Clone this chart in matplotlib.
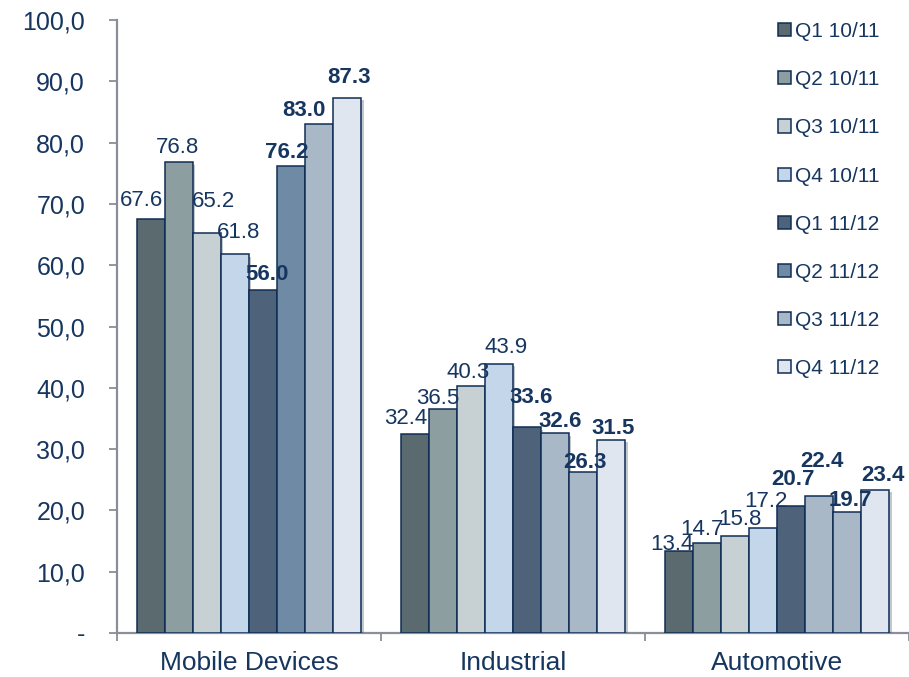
import matplotlib
matplotlib.use("Agg")
import matplotlib.pyplot as plt
import matplotlib.patheffects as pe
import numpy as np

plt.rcParams["font.family"] = ["Liberation Sans", "DejaVu Sans"]

# Revenue by segment per quarter
categories = ["Mobile Devices", "Industrial", "Automotive"]
series_names = ["Q1 10/11", "Q2 10/11", "Q3 10/11", "Q4 10/11",
                "Q1 11/12", "Q2 11/12", "Q3 11/12", "Q4 11/12"]
q1_1011 = [67.6, 32.4, 13.4]
q2_1011 = [76.8, 36.5, 14.7]
q3_1011 = [65.2, 40.3, 15.8]
q4_1011 = [61.8, 43.9, 17.2]
q1_1112 = [56.0, 33.6, 20.7]
q2_1112 = [76.2, 32.6, 22.4]
q3_1112 = [83.0, 26.3, 19.7]
q4_1112 = [87.3, 31.5, 23.4]
series_values = [q1_1011, q2_1011, q3_1011, q4_1011,
                 q1_1112, q2_1112, q3_1112, q4_1112]
y_ticks = [0, 10, 20, 30, 40, 50, 60, 70, 80, 90, 100]
y_tick_labels = ["-", "10,0", "20,0", "30,0", "40,0", "50,0",
                 "60,0", "70,0", "80,0", "90,0", "100,0"]

# Styling
series_colors = ["#5b6a6e", "#8c9ea0", "#c7d0d2", "#c4d6ea",
                 "#4e6379", "#a9b8c7", "#a9b8c6", "#e0e6ef"]
# Mobile Devices Q2 11/12 is drawn in a deeper blue
bar_color_override = {(5, 0): "#6e8aa4"}
edge_color = "#0f2d55"
text_color = "#163660"
axis_color = "#8a8e99"

# Hand-placed nudges (pixels) for the value labels, per category then series
label_nudges = [
    [(-9, 13), (-1, 9), (7, 26), (4, 16), (4, 10), (-4, 8), (-15, 8), (2, 15)],
    [(-9, 10), (-5, 5), (-3, 8), (7, 11), (4, 24), (5, 6), (2, 4), (2, 6)],
    [(-7, 1), (-5, 8), (5, 11), (3, 21), (2, 21), (3, 29), (3, 6), (8, 9)],
]

fig = plt.figure(figsize=(9.09, 6.77), dpi=100)
ax = fig.add_axes([117 / 909, 44 / 677, 1 - 117 / 909, (633 - 20) / 677])

bar_w = 0.1065
x_centers = np.arange(len(categories)) + 0.5
shadow = [pe.SimplePatchShadow(offset=(1.5, -1.8), shadow_rgbFace="#3a4a60", alpha=0.3),
          pe.Normal()]

handles = []
for i, (name, vals) in enumerate(zip(series_names, series_values)):
    xs = x_centers + (i - 3.5) * bar_w
    colors = [bar_color_override.get((i, j), series_colors[i]) for j in range(len(vals))]
    bars = ax.bar(xs, vals, width=bar_w, color=colors, edgecolor=edge_color,
                  linewidth=1.1, label=name, zorder=3)
    for b in bars:
        b.set_path_effects(shadow)
    handles.append(bars)
    weight = "bold" if i >= 4 else "normal"
    for j, (x, v) in enumerate(zip(xs, vals)):
        dx, dy = label_nudges[j][i]
        ax.annotate(f"{v:.1f}", (x, v), xytext=(dx, dy), textcoords="offset pixels",
                    ha="center", va="baseline", fontsize=16, fontweight=weight,
                    color=text_color, zorder=4)

ax.set_xlim(0, 3)
ax.set_ylim(0, 100)
ax.set_yticks(y_ticks)
ax.set_yticklabels(y_tick_labels)
ax.set_xticks(x_centers)
ax.set_xticklabels(categories)
ax.set_xticks([0, 1, 2, 3], minor=True)

ax.tick_params(axis="y", direction="out", length=6, width=1.3, color=axis_color,
               labelsize=18, labelcolor=text_color, pad=17)
ax.tick_params(axis="x", which="major", length=0, labelsize=19,
               labelcolor=text_color, pad=13)
ax.tick_params(axis="x", which="minor", direction="out", length=6, width=1.3,
               color=axis_color)

for side in ("top", "right"):
    ax.spines[side].set_visible(False)
for side in ("left", "bottom"):
    ax.spines[side].set_color(axis_color)
    ax.spines[side].set_linewidth(1.6)
ax.spines["left"].set_zorder(2)

leg = ax.legend(handles=handles, loc="upper left",
                bbox_to_anchor=(778 / 909, 1 - 22 / 677),
                bbox_transform=fig.transFigure, frameon=False, fontsize=15,
                handlelength=0.6, handleheight=0.6, handletextpad=0.2,
                labelspacing=1.4, borderpad=0, borderaxespad=0)
for t in leg.get_texts():
    t.set_color(text_color)
for h in leg.legend_handles:
    h.set_path_effects([])

fig.savefig("out.png", dpi=100)
